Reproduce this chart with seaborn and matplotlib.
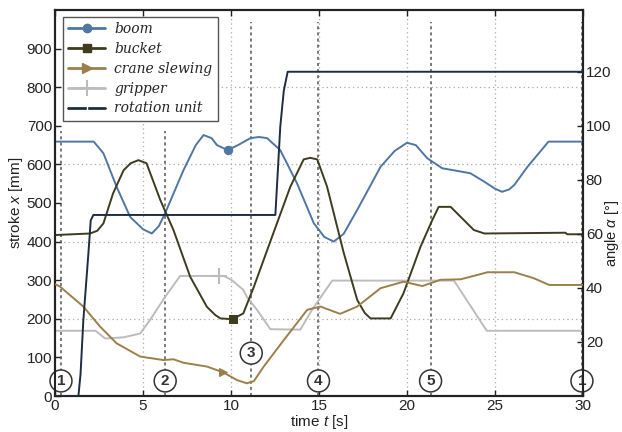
import numpy as np
import pandas as pd
import seaborn as sns
import matplotlib.pyplot as plt
from matplotlib.lines import Line2D

# boom stroke [mm]
boom_t = [0, 2.2, 2.75, 3.5, 4.27, 5.0, 5.5, 5.9, 6.26, 7.3, 8.0, 8.44, 8.9, 9.2, 9.81, 10.4, 11.1, 11.6, 12.05, 12.8,
          13.75, 14.7, 15.3, 15.84, 16.4, 17.17, 18.5, 19.3, 20.0, 20.5, 21.15, 22.0, 23.0, 23.6, 24.4, 25.0, 25.4,
          25.8, 26.1, 26.85, 28.04, 30]
boom_x = [659, 659, 629, 542, 464, 432, 421, 440, 474, 585, 650, 676, 668, 650, 637, 650, 668, 671, 668, 637,
          551, 448, 412, 400, 420, 482, 594, 635, 656, 650, 616, 590, 582, 577, 555, 537, 529, 535, 547, 594, 659, 659]
boom_mark = 14

# bucket stroke [mm]
bucket_t = [0, 1.99, 2.4, 2.75, 3.3, 3.9, 4.3, 4.74, 5.2, 5.98, 6.73, 7.68, 8.63, 9.1, 9.4, 10.09, 10.7, 11.3, 12.4,
            13.37, 14.13, 14.5, 14.9, 15.46, 16.41, 17.17, 17.6, 17.93, 19.07, 19.8, 20.77, 21.44, 21.8, 22.48,
            23.05, 23.8, 24.4, 29.0, 29.1, 30]
bucket_x = [417, 421, 428, 447, 525, 585, 603, 611, 603, 508, 430, 309, 231, 210, 201, 199, 214, 283, 421,
            542, 613, 617, 613, 542, 370, 249, 215, 201, 201, 266, 387, 456, 490, 490,
            464, 430, 421, 423, 419, 419]
bucket_mark = 15

# gripper stroke [mm]
gripper_t = [0, 2.3, 2.85, 3.9, 4.84, 5.4, 6.26, 7.11, 9.3, 9.6, 10.05, 10.7, 10.9, 11.48, 12.24, 13.94, 14.6, 15.75,
             22.67, 24.53, 30]
gripper_x = [169, 169, 149, 152, 162, 197, 257, 311, 311, 311, 300, 275, 257, 223, 173, 172, 223, 299,
             299, 169, 169]
gripper_mark = 8

# crane slewing angle [deg]
crane_t = [0, 0.28, 1.61, 2.56, 3.5, 4.84, 6.16, 6.73, 7.3, 8.63, 9.54, 10.34, 10.9, 11.3, 11.86, 13.0, 14.33, 15.08,
           16.2, 17.17, 18.5, 19.8, 20.87, 21.9, 23.05, 24.0, 24.57, 26.1, 27.2, 28.08, 30]
crane_a = [41.4, 40.5, 33.1, 25.7, 19.5, 14.6, 13.3, 13.6, 12.3, 10.9, 8.8, 5.9, 4.7, 5.5, 10.9, 20.7, 31.9, 33.1,
           30.4, 33.1, 39.9, 42.3, 40.7, 43.0, 43.2, 44.8, 45.8, 45.8, 43.6, 41.1, 41.1]
crane_mark = 10

# rotation unit angle [deg]
rot_t = [0, 1.33, 1.45, 1.61, 1.9, 2.03, 2.18, 12.52, 12.65, 12.8, 13.0, 13.22, 30]
rot_a = [0, 0, 8, 28, 53, 65, 67, 67, 82, 99.7, 113, 120, 120]

# phases
phase_t = [0.34, 6.26, 11.15, 14.97, 21.34, 29.94]
phase_lbl = ["1", "2", "3", "4", "5", "1"]
phase_top = [686, 686, 970, 970, 970, 970]
phase_y = [39, 39, 111, 39, 39, 39]

c_boom = "#4f77a1"
c_bucket = "#3f3b1e"
c_crane = "#9c804b"
c_grip = "#bcbcbc"
c_rot = "#1f2d42"

sns.set_style("ticks")
plt.rcParams["font.family"] = ["Liberation Sans", "DejaVu Sans"]
plt.rcParams["mathtext.fontset"] = "custom"
plt.rcParams["mathtext.rm"] = "Liberation Sans"
plt.rcParams["mathtext.it"] = "Liberation Sans:italic"

fig = plt.figure(figsize=(6.22, 4.32), dpi=100)
ax = fig.add_axes([55 / 622, 1 - 396 / 432, (583 - 55) / 622, (396 - 10) / 432])
ax2 = ax.twinx()

# grid
for g in [5, 10, 15, 20, 25]:
    ax.axvline(g, color="#aaaaaa", lw=0.9, ls=(0, (1, 2.5)), zorder=0)
for g in [200, 400, 600, 800]:
    ax.axhline(g, color="#aaaaaa", lw=0.9, ls=(0, (1, 2.5)), zorder=0)

for t, top in zip(phase_t, phase_top):
    ax.plot([t, t], [0, top], color="#555555", lw=1.1, ls=(0, (2, 2)), zorder=1)

lw = 1.4
sns.lineplot(x=boom_t, y=boom_x, ax=ax, color=c_boom, lw=lw, marker="o", ms=6, mec=c_boom,
             markevery=[boom_mark], sort=False, zorder=3)
sns.lineplot(x=bucket_t, y=bucket_x, ax=ax, color=c_bucket, lw=lw, marker="s", ms=6, mec=c_bucket,
             markevery=[bucket_mark], sort=False, zorder=3)
sns.lineplot(x=gripper_t, y=gripper_x, ax=ax, color=c_grip, lw=lw, marker="+", ms=12, mew=1.5, mec=c_grip,
             markevery=[gripper_mark], sort=False, zorder=2)
sns.lineplot(x=crane_t, y=crane_a, ax=ax2, color=c_crane, lw=lw, marker=">", ms=6, mec=c_crane,
             markevery=[crane_mark], sort=False, zorder=3)
sns.lineplot(x=rot_t, y=rot_a, ax=ax2, color=c_rot, lw=lw, sort=False, zorder=3)

for t, lbl, y in zip(phase_t, phase_lbl, phase_y):
    ax.text(t, y, lbl, ha="center", va="center", fontsize=11, fontweight="bold", color="#333333", zorder=5,
            bbox=dict(boxstyle="circle,pad=0.26", fc="white", ec="#333333", lw=1.1))

ax.set_xlim(0, 30)
ax.set_ylim(0, 1000)
ax2.set_ylim(0, 1000 / 7)
ax.set_xticks([0, 5, 10, 15, 20, 25, 30])
ax.set_yticks([0, 100, 200, 300, 400, 500, 600, 700, 800, 900])
ax2.set_yticks([20, 40, 60, 80, 100, 120])
ax.tick_params(direction="in", top=True, length=4, width=1, labelsize=11, colors="#222222", pad=2)
ax2.tick_params(direction="in", length=4, width=1, labelsize=11, colors="#222222", pad=2)
ax.set_xlabel(r"time $t$ [s]", fontsize=11, labelpad=0, color="#222222")
ax.set_ylabel(r"stroke $x$ [mm]", fontsize=11, labelpad=1, color="#222222")
ax2.set_ylabel(r"angle $\alpha$ [°]", fontsize=10.5, color="#222222")
ax2.yaxis.set_label_coords(1.037, 0.42)
for a in (ax, ax2):
    for s in a.spines.values():
        s.set_linewidth(1.5)
        s.set_color("#222222")

handles = [
    Line2D([], [], color=c_boom, lw=2, marker="o", ms=6),
    Line2D([], [], color=c_bucket, lw=2, marker="s", ms=6),
    Line2D([], [], color=c_crane, lw=2, marker=">", ms=7),
    Line2D([], [], color=c_grip, lw=2, marker="+", ms=11, mew=1.5),
    Line2D([], [], color=c_rot, lw=2, marker="|", ms=8, mec="white", mew=1),
]
labels = ["boom", "bucket", "crane slewing", "gripper", "rotation unit"]
if ax.get_legend() is not None:
    ax.get_legend().remove()
if ax2.get_legend() is not None:
    ax2.get_legend().remove()
leg = ax2.legend(handles, labels, loc="upper left", bbox_to_anchor=(0.015, 0.983), frameon=True, fancybox=False,
                 prop=dict(family="DejaVu Serif", style="italic", size=10), handlelength=2.6,
                 labelspacing=0.42, borderpad=0.4, handletextpad=0.7, borderaxespad=0)
leg.get_frame().set_edgecolor("#555555")
leg.get_frame().set_linewidth(1)
leg.get_frame().set_facecolor("white")
leg.get_frame().set_alpha(1)
leg.set_zorder(10)

fig.savefig("out.png", dpi=100)
